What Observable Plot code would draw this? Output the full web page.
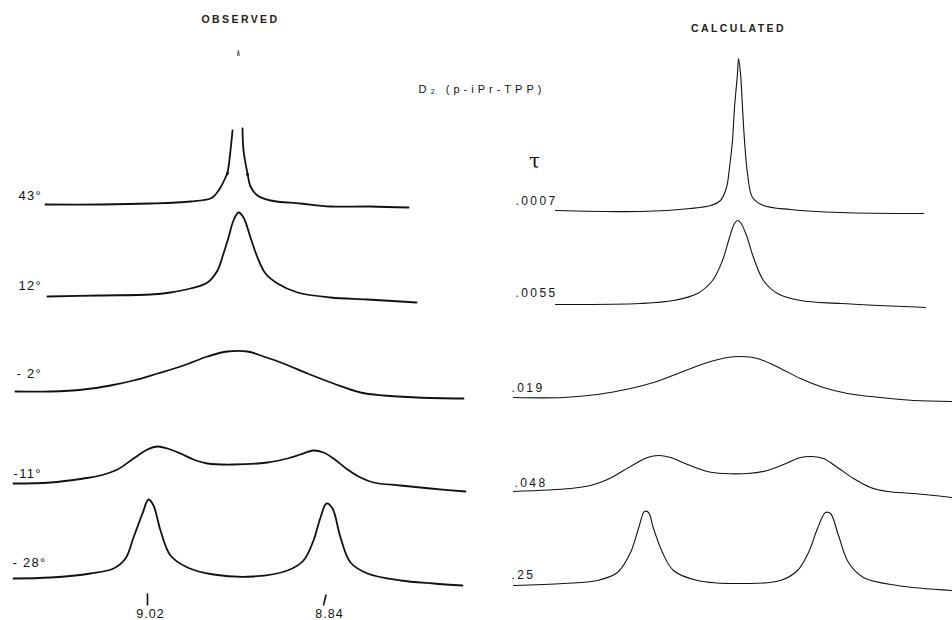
<!DOCTYPE html>
<html><head><meta charset="utf-8">
<script src="https://cdn.jsdelivr.net/npm/d3@7"></script>
<script src="https://cdn.jsdelivr.net/npm/@observablehq/plot@0.6"></script>
<style>
body{margin:0;background:#fff}
svg{display:block}
</style>
</head><body><div id="chart"></div>
<script>
// Traced curve points [x, y] in figure units (x: left→right, y: top→down)
const obs43 = [[45,204],[100,204],[150,203],[190,201],[210,198],[215,194],[220,187],[225,177],[227,172],[230,150],[232,130],[NaN,NaN],[242,128],[243,150],[247,173],[250,186],[257,195],[270,200],[300,203],[330,206],[370,206],[408,207]];
const obs43tip = [[237.0,55],[237.9,50],[238.8,55]];
const obs12 = [[47,296],[100,295],[150,294],[170,292],[190,288],[207,282],[217,270],[223,253],[228,237],[233,220],[238,212],[243,217],[250,237],[257,257],[265,273],[277,283],[297,292],[330,297],[367,299],[416,302]];
const obsM2 = [[15,391],[50,391],[83,389],[110,385],[133,380],[157,373],[183,365],[207,356],[227,351],[247,351],[263,356],[283,363],[307,373],[333,383],[360,392],[383,395],[417,397],[463,398]];
const obsM11 = [[13,483],[50,482],[83,478],[100,475],[117,469],[133,458],[147,449],[157,446],[167,448],[180,453],[193,459],[207,463],[233,464],[267,462],[287,458],[300,454],[313,450],[323,452],[333,458],[347,469],[360,477],[373,482],[400,485],[430,488],[465,491]];
const obsM28 = [[13,578],[50,577],[90,573],[113,568],[125,558],[133,537],[142,513],[148,499],[153,505],[160,530],[170,555],[187,567],[213,574],[253,576],[287,570],[303,560],[313,540],[320,517],[326,503],[332,508],[340,537],[350,562],[367,573],[400,580],[433,583],[462,585]];
const obsDots = [[227,173],[247,174]];

const calc0007 = [[555,210],[640,211],[690,208],[710,205],[720,200],[726,187],[729,167],[732,140],[734,107],[737,73],[738,58],[740,73],[742,107],[744,140],[747,173],[752,197],[763,205],[790,209],[840,212],[923,213]];
const calc0055 = [[555,304],[640,303],[673,300],[697,293],[712,280],[722,260],[729,237],[734,223],[737,220],[740,222],[746,235],[753,257],[763,280],[777,293],[800,300],[840,303],[925,307]];
const calc019 = [[513,397],[563,397],[597,394],[630,388],[653,382],[680,372],[707,362],[727,357],[740,356],[757,358],[780,368],[800,378],[823,387],[847,393],[880,397],[913,400],[952,401]];
const calc048 = [[513,491],[570,488],[590,485],[607,479],[623,470],[637,462],[647,457],[658,455],[670,457],[687,464],[707,471],[723,473],[747,473],[767,470],[783,464],[800,457],[812,456],[823,458],[837,467],[853,478],[870,487],[887,491],[913,493],[952,497]];
const calc25 = [[513,585],[563,583],[597,580],[617,572],[630,552],[638,528],[644,511],[648,512],[653,528],[662,552],[673,570],[697,580],[747,583],[780,580],[797,570],[808,552],[817,528],[825,512],[830,513],[838,535],[848,562],[863,577],[897,585],[952,590]];

// Text
const titles = ["OBSERVED", "CALCULATED"];
const titleX = [240, 738];
const titleY = [19, 28];
const temps = ["43°", "12°", "- 2°", "-11°", "- 28°"];
const tempX = [18, 18, 16, 13, 12];
const tempY = [195, 285, 373, 473, 562];
const taus = [".0007", ".0055", ".019", ".048", ".25"];
const tauX = [515, 515, 511, 514, 511];
const tauY = [201, 293, 388, 483, 575];
const compound = "D₂ (p-iPr-TPP)";
const shifts = ["9.02", "8.84"];
const shiftX = [150, 329];
const shiftTick = [[147,593,147,605],[323,605,325.5,594]];

const obsCurves = [obs43, obs12, obsM2, obsM11, obsM28];
const calcCurves = [calc0007, calc0055, calc019, calc048, calc25];
const toRows = (curves) => curves.flatMap((c, i) => c.map(([x, y]) => ({curve: i, x, y})));

const font = "'Liberation Sans', Arial, Helvetica, sans-serif";
const chart = Plot.plot({
  width: 952, height: 620, margin: 0,
  x: {domain: [0, 952], range: [0, 952], axis: null},
  y: {domain: [0, 620], range: [0, 620], axis: null},
  style: {background: "#fff", fontFamily: font},
  marks: [
    Plot.line(toRows(obsCurves), {x: "x", y: "y", z: "curve", curve: "catmull-rom", stroke: "#111", strokeWidth: 1.8}),
    Plot.line(obs43tip, {x: d => d[0], y: d => d[1], stroke: "#333", strokeWidth: 0.9}),
    Plot.dot(obsDots, {x: d => d[0], y: d => d[1], r: 1.4, fill: "#111"}),
    Plot.line(toRows(calcCurves), {x: "x", y: "y", z: "curve", curve: "catmull-rom", stroke: "#111", strokeWidth: 1.1}),
    Plot.text(titles, {x: (d, i) => titleX[i], y: (d, i) => titleY[i], text: d => d, fontSize: 10.5, fontWeight: "bold", fill: "#222"}),
    Plot.text(temps, {x: (d, i) => tempX[i], y: (d, i) => tempY[i], text: d => d, textAnchor: "start", fontSize: 13, fill: "#111"}),
    Plot.text(taus, {x: (d, i) => tauX[i], y: (d, i) => tauY[i], text: d => d, textAnchor: "start", fontSize: 12, fill: "#111"}),
    Plot.text([compound], {x: 418, y: 89, text: d => d, textAnchor: "start", fontSize: 11, fill: "#111"}),
    Plot.text(["τ"], {x: 534, y: 161, text: d => d, fontSize: 20, fontFamily: "'DejaVu Serif', 'Liberation Serif', serif", fill: "#111"}),
    Plot.link(shiftTick, {x1: d => d[0], y1: d => d[1], x2: d => d[2], y2: d => d[3], stroke: "#111", strokeWidth: 1.6}),
    Plot.text(shifts, {x: (d, i) => shiftX[i], y: 613, text: d => d, fontSize: 12.5, fill: "#111"})
  ]
});
// letter spacing to match the typewritten labels
const spacing = new Map([
  ...titles.map(t => [t, "2.4px"]),
  ...temps.map(t => [t, "1.3px"]),
  ...taus.map(t => [t, "2.4px"]),
  [compound, "4px"],
  ...shifts.map(t => [t, "1px"])
]);
d3.select(chart).selectAll("text").each(function() {
  const s = spacing.get(this.textContent);
  if (s) this.setAttribute("letter-spacing", s);
});
document.getElementById("chart").appendChild(chart);
</script>
</body></html>
